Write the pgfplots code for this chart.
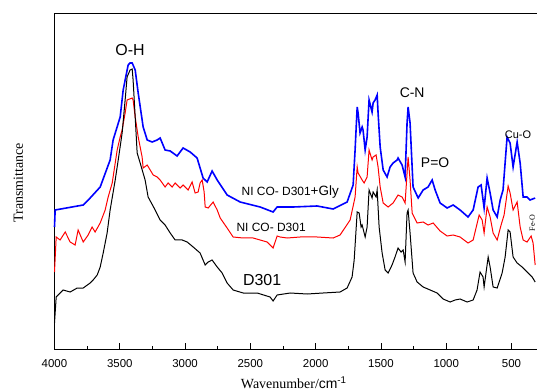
\documentclass[border=0pt]{standalone}
\usepackage{fontspec}
\setmainfont{Liberation Sans}
\newfontfamily\seriffont{Liberation Serif}
\usepackage{pgfplots}
\pgfplotsset{compat=1.18}
\begin{document}
\begin{tikzpicture}
\useasboundingbox (-54.5bp,-43bp) rectangle (482.5bp,349bp);
\begin{axis}[
  scale only axis, width=482.5bp, height=336bp,
  at={(0,0)}, anchor=south west,
  x dir=reverse, xmin=305, xmax=4000, ymin=43, ymax=379,
  separate axis lines, axis x line*=box, axis y line*=left,
  xtick={4000,3500,3000,2500,2000,1500,1000,500},
  minor x tick num=1, xtick pos=bottom,
  ytick=\empty,
  tick align=inside,
  major tick length=6bp, minor tick length=3bp,
  tick style={black, line width=0.8bp},
  axis line style={black, line width=0.9bp},
  /pgf/number format/assume math mode=true,
  /pgf/number format/1000 sep={},
  xticklabel style={font=\fontsize{11.5}{12}\selectfont, yshift=-7bp},
  xlabel={{\seriffont Wavenumber/}cm\textsuperscript{-1}},
  xlabel style={font=\fontsize{14}{14}\selectfont, at={(axis description cs:0.496,-0.117)}, anchor=base},
  ylabel={Transmittance},
  ylabel style={font=\fontsize{14}{14}\selectfont\seriffont, at={(axis description cs:-0.075,0.494)}, anchor=center, rotate=0},
  clip=false,
]
% blue: NI CO- D301+Gly
\addplot[blue, line width=1.6bp] coordinates {
(4000,165)(3995,182)(3780,187)(3727,194)(3650,205)(3574,232)(3551,252)(3497,275)(3474,302)(3436,327)(3421,329)(3405,329)(3382,322)(3359,299)(3321,265)(3290,252)(3252,250)(3214,252)(3191,254)(3153,242)(3114,241)(3061,236)(3015,244)(2961,240)(2908,234)(2862,214)(2831,210)(2793,221)(2754,212)(2678,197)(2578,190)(2425,185)(2326,180)(2295,185)(2173,185)(1989,186)(1866,183)(1759,190)(1713,207)(1698,242)(1682,285)(1675,279)(1660,259)(1644,265)(1637,262)(1621,242)(1606,255)(1591,292)(1568,280)(1560,289)(1545,292)(1529,297)(1522,279)(1506,245)(1483,222)(1453,215)(1430,225)(1407,229)(1376,232)(1369,234)(1338,227)(1315,215)(1300,269)(1292,285)(1277,269)(1254,205)(1215,194)(1177,202)(1139,205)(1108,212)(1085,202)(1047,189)(993,184)(947,187)(894,182)(833,175)(794,182)(756,205)(733,207)(710,184)(687,214)(664,199)(641,182)(610,175)(587,192)(565,202)(534,255)(511,249)(488,225)(457,250)(434,229)(411,195)(381,195)(358,192)(319,194)
};
% red: NI CO- D301
\addplot[red, line width=1bp] coordinates {
(4000,120)(3987,155)(3957,152)(3918,160)(3880,150)(3842,147)(3819,162)(3780,150)(3742,157)(3712,165)(3689,160)(3650,169)(3612,182)(3589,195)(3558,209)(3520,242)(3497,255)(3482,262)(3459,279)(3444,292)(3405,294)(3398,292)(3382,275)(3359,255)(3329,235)(3321,224)(3290,227)(3267,222)(3244,217)(3214,215)(3191,212)(3153,205)(3130,209)(3099,205)(3076,209)(3038,204)(3015,207)(2977,202)(2946,210)(2923,199)(2900,200)(2885,209)(2869,212)(2854,200)(2846,185)(2823,184)(2785,190)(2754,182)(2731,174)(2678,164)(2632,155)(2555,154)(2479,154)(2372,150)(2326,144)(2295,156)(2272,155)(2218,154)(2119,155)(1989,155)(1866,154)(1813,157)(1736,172)(1698,195)(1682,225)(1675,219)(1644,212)(1629,209)(1606,215)(1591,242)(1568,232)(1560,235)(1537,237)(1522,225)(1506,205)(1483,189)(1445,185)(1407,189)(1369,197)(1338,195)(1315,189)(1292,235)(1277,212)(1261,179)(1223,169)(1177,170)(1139,167)(1100,169)(1047,161)(993,156)(947,157)(894,155)(833,149)(794,152)(748,177)(725,172)(710,159)(687,185)(664,175)(641,159)(610,152)(580,167)(557,177)(526,206)(511,199)(488,182)(457,190)(434,165)(411,152)(381,150)(350,156)(335,149)(319,127)
};
% black: D301
\addplot[black, line width=1bp] coordinates {
(4000,69)(3987,95)(3934,102)(3880,100)(3826,104)(3780,104)(3727,109)(3704,112)(3673,117)(3650,125)(3627,139)(3597,159)(3574,182)(3535,212)(3512,232)(3482,259)(3459,292)(3444,315)(3421,322)(3405,323)(3398,312)(3382,275)(3367,239)(3344,229)(3306,212)(3283,195)(3229,182)(3191,172)(3153,167)(3114,159)(3076,152)(3022,152)(2984,150)(2938,145)(2885,139)(2846,127)(2823,130)(2793,132)(2754,125)(2716,119)(2678,109)(2632,102)(2555,99)(2448,99)(2349,95)(2326,91)(2295,97)(2195,99)(2065,98)(1943,99)(1813,100)(1759,104)(1721,115)(1705,132)(1682,180)(1667,179)(1652,165)(1644,167)(1621,155)(1606,165)(1591,202)(1568,194)(1560,200)(1537,195)(1529,202)(1514,165)(1491,139)(1468,122)(1445,119)(1415,127)(1392,135)(1369,144)(1346,140)(1330,142)(1315,130)(1300,179)(1292,182)(1277,159)(1254,119)(1223,110)(1177,105)(1123,102)(1070,99)(1024,93)(970,90)(932,92)(894,93)(840,90)(794,92)(764,102)(741,120)(718,115)(710,105)(679,135)(664,125)(641,105)(610,104)(572,119)(549,135)(526,162)(511,160)(488,135)(457,129)(419,125)(381,120)(342,115)(319,110)
};
\node[font=\fontsize{16}{16}\selectfont] at (axis cs:3421,342) {O-H};
\node[font=\fontsize{12}{12}\selectfont] at (axis cs:2195,200) {NI CO- D301\fontsize{13.5}{13.5}\selectfont+Gly};
\node[font=\fontsize{12}{12}\selectfont] at (axis cs:2341,165) {NI CO- D301};
\node[font=\fontsize{16}{16}\selectfont] at (axis cs:2410,112) {D301};
\node[font=\fontsize{14}{14}\selectfont] at (axis cs:1261,299) {C-N};
\node[font=\fontsize{14}{14}\selectfont] at (axis cs:1085,229) {P=O};
\node[font=\fontsize{11}{11}\selectfont] at (axis cs:450,257) {Cu-O};
\node[font=\fontsize{8}{8}\selectfont\seriffont, rotate=90] at (axis cs:342,169) {Fe-O};
\end{axis}
\end{tikzpicture}
\end{document}
